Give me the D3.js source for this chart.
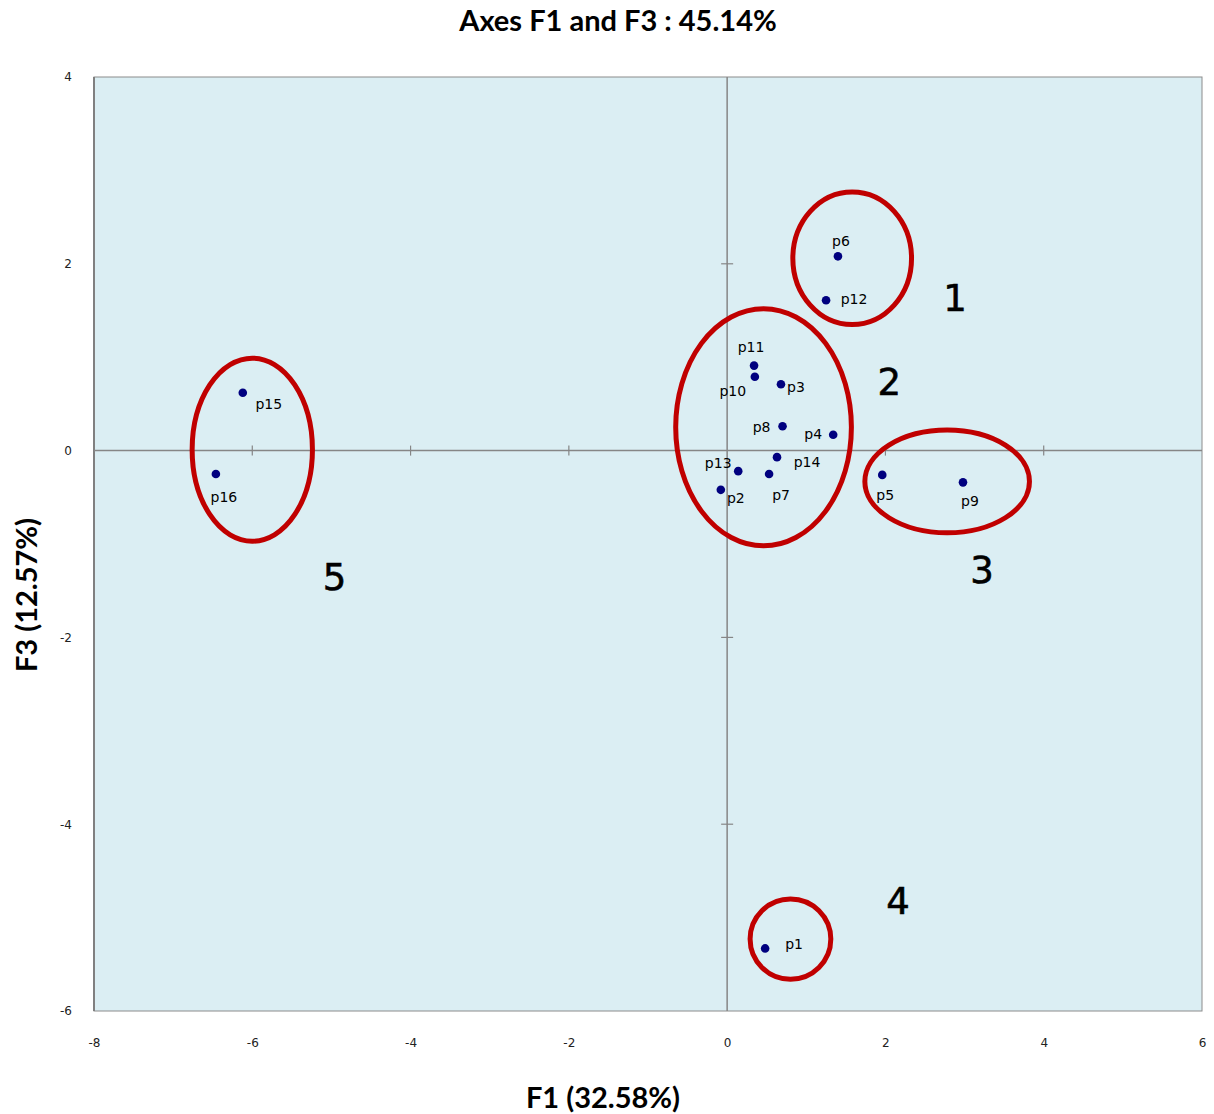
<!DOCTYPE html>
<html>
<head>
<meta charset="utf-8">
<script src="https://cdn.jsdelivr.net/npm/d3@7/dist/d3.min.js"></script>
<style>
  html, body { margin: 0; padding: 0; background: #ffffff; }
  svg { display: block; }
</style>
</head>
<body>
<svg id="chart" width="1214" height="1114"></svg>
<script>
// Observation scores on factors F1 and F3
const pointNames = ["p1","p2","p3","p4","p5","p6","p7","p8","p9","p10","p11","p12","p13","p14","p15","p16"];
const f1Scores   = [0.48, -0.08, 0.68, 1.34, 1.96, 1.40, 0.53, 0.70, 2.98, 0.35, 0.34, 1.25, 0.14, 0.63, -6.12, -6.46];
const f3Scores   = [-5.33, -0.42, 0.71, 0.17, -0.26, 2.08, -0.25, 0.26, -0.34, 0.79, 0.91, 1.61, -0.22, -0.07, 0.62, -0.25];

// Cluster outlines (centre and radii in factor units) and their numbers
const clusterIds = ["1", "2", "3", "4", "5"];
const clusterCx  = [1.58, 0.46, 2.78, 0.80, -6.00];
const clusterCy  = [2.06, 0.25, -0.33, -5.23, 0.01];
const clusterRx  = [0.75, 1.11, 1.04, 0.51, 0.76];
const clusterRy  = [0.71, 1.27, 0.55, 0.43, 0.98];
const clusterLabelX = [2.88, 2.05, 3.22, 2.16, -4.96];
const clusterLabelY = [1.63, 0.73, -1.28, -4.83, -1.36];

// Axis ticks
const xTicks = [-8, -6, -4, -2, 0, 2, 4, 6];
const yTicks = [4, 2, 0, -2, -4, -6];

const chartTitle = "Axes F1 and F3 : 45.14%";
const xTitle = "F1 (32.58%)";
const yTitle = "F3 (12.57%)";

// Label placement around each point (pixels, label centre relative to dot)
const labelOffsets = [[29,-4],[15,8],[15,3],[-20,-1],[3,20],[3,-15],[12,21],[-21,1],[7,19],[-22,14],[-3,-19],[28,-1],[-20,-8],[30,5],[26,11],[8,23]];

const plot = { left: 94, right: 1202, top: 77, bottom: 1011 };

const svg = d3.select("#chart");
svg.append("rect").attr("width", 1214).attr("height", 1114).attr("fill", "#ffffff");

const x = d3.scaleLinear().domain([-8, 6]).range([plot.left, plot.right]);
const y = d3.scaleLinear().domain([-6, 4]).range([plot.bottom, plot.top]);

// Plot background and frame
svg.append("rect")
  .attr("x", plot.left).attr("y", plot.top)
  .attr("width", plot.right - plot.left).attr("height", plot.bottom - plot.top)
  .attr("fill", "#dbeef3").attr("stroke", "#8c8c8c").attr("stroke-width", 1);
svg.append("line")
  .attr("x1", plot.left).attr("x2", plot.left)
  .attr("y1", plot.top).attr("y2", plot.bottom)
  .attr("stroke", "#808080").attr("stroke-width", 2);

// Axes crossing at the origin
const axisColor = "#868686";
svg.append("line")
  .attr("x1", plot.left).attr("x2", plot.right)
  .attr("y1", y(0)).attr("y2", y(0))
  .attr("stroke", axisColor).attr("stroke-width", 1.5);
svg.append("line")
  .attr("x1", x(0)).attr("x2", x(0))
  .attr("y1", plot.top).attr("y2", plot.bottom)
  .attr("stroke", axisColor).attr("stroke-width", 1.5);

// Tick marks on the crossing axes
svg.append("g").selectAll("line")
  .data(xTicks.filter(t => t !== 0 && t > -8 && t < 6))
  .join("line")
  .attr("x1", d => x(d)).attr("x2", d => x(d))
  .attr("y1", y(0) - 5).attr("y2", y(0) + 5)
  .attr("stroke", axisColor).attr("stroke-width", 1.2);
svg.append("g").selectAll("line")
  .data(yTicks.filter(t => t !== 0 && t < 4 && t > -6))
  .join("line")
  .attr("x1", x(0) - 6).attr("x2", x(0) + 6)
  .attr("y1", d => y(d)).attr("y2", d => y(d))
  .attr("stroke", axisColor).attr("stroke-width", 1.2);

// Tick labels along the frame edges (plain hyphen for negatives)
const fmt = d => String(d);
const xAxis = d3.axisBottom(x).tickValues(xTicks).tickSize(0).tickPadding(0).tickFormat(fmt);
const gx = svg.append("g").attr("transform", `translate(0, ${plot.bottom + 36})`).call(xAxis);
gx.select(".domain").remove();
gx.selectAll("text")
  .attr("font-family", "DejaVu Sans").attr("font-size", 12).attr("fill", "#222")
  .attr("dy", "0");

const yAxis = d3.axisLeft(y).tickValues(yTicks).tickSize(0).tickPadding(0).tickFormat(fmt);
const gy = svg.append("g").attr("transform", `translate(${plot.left - 22}, 0)`).call(yAxis);
gy.select(".domain").remove();
gy.selectAll("text")
  .attr("font-family", "DejaVu Sans").attr("font-size", 12).attr("fill", "#222");

// Titles
svg.append("text")
  .attr("x", 618).attr("y", 31)
  .attr("text-anchor", "middle")
  .attr("font-family", "Lato").attr("font-weight", "bold").attr("font-size", 29)
  .attr("fill", "#000").text(chartTitle);
svg.append("text")
  .attr("x", 603).attr("y", 1108)
  .attr("text-anchor", "middle")
  .attr("font-family", "Lato").attr("font-weight", "bold").attr("font-size", 29)
  .attr("fill", "#000").text(xTitle);
svg.append("text")
  .attr("transform", "translate(37, 595) rotate(-90)")
  .attr("text-anchor", "middle")
  .attr("font-family", "Lato").attr("font-weight", "bold").attr("font-size", 29)
  .attr("fill", "#000").text(yTitle);

// Cluster outlines
const clusters = clusterIds.map((id, i) => ({
  id, cx: clusterCx[i], cy: clusterCy[i], rx: clusterRx[i], ry: clusterRy[i],
  lx: clusterLabelX[i], ly: clusterLabelY[i]
}));
svg.append("g").selectAll("ellipse")
  .data(clusters)
  .join("ellipse")
  .attr("cx", d => x(d.cx)).attr("cy", d => y(d.cy))
  .attr("rx", d => x(d.cx + d.rx) - x(d.cx))
  .attr("ry", d => y(d.cy) - y(d.cy + d.ry))
  .attr("fill", "none").attr("stroke", "#c00000").attr("stroke-width", 5);

svg.append("g").selectAll("text")
  .data(clusters)
  .join("text")
  .attr("x", d => x(d.lx)).attr("y", d => y(d.ly))
  .attr("text-anchor", "middle").attr("dominant-baseline", "central")
  .attr("font-family", "DejaVu Sans").attr("font-size", 37)
  .attr("fill", "#000").attr("stroke", "#000").attr("stroke-width", 0.6)
  .text(d => d.id);

// Observations
const points = pointNames.map((name, i) => ({ name, f1: f1Scores[i], f3: f3Scores[i], off: labelOffsets[i] }));
svg.append("g").selectAll("circle")
  .data(points)
  .join("circle")
  .attr("cx", d => x(d.f1)).attr("cy", d => y(d.f3))
  .attr("r", 4.3).attr("fill", "#00007f");

svg.append("g").selectAll("text")
  .data(points)
  .join("text")
  .attr("x", d => x(d.f1) + d.off[0]).attr("y", d => y(d.f3) + d.off[1])
  .attr("text-anchor", "middle").attr("dominant-baseline", "central")
  .attr("font-family", "DejaVu Sans").attr("font-size", 14)
  .attr("fill", "#000").text(d => d.name);
</script>
</body>
</html>
